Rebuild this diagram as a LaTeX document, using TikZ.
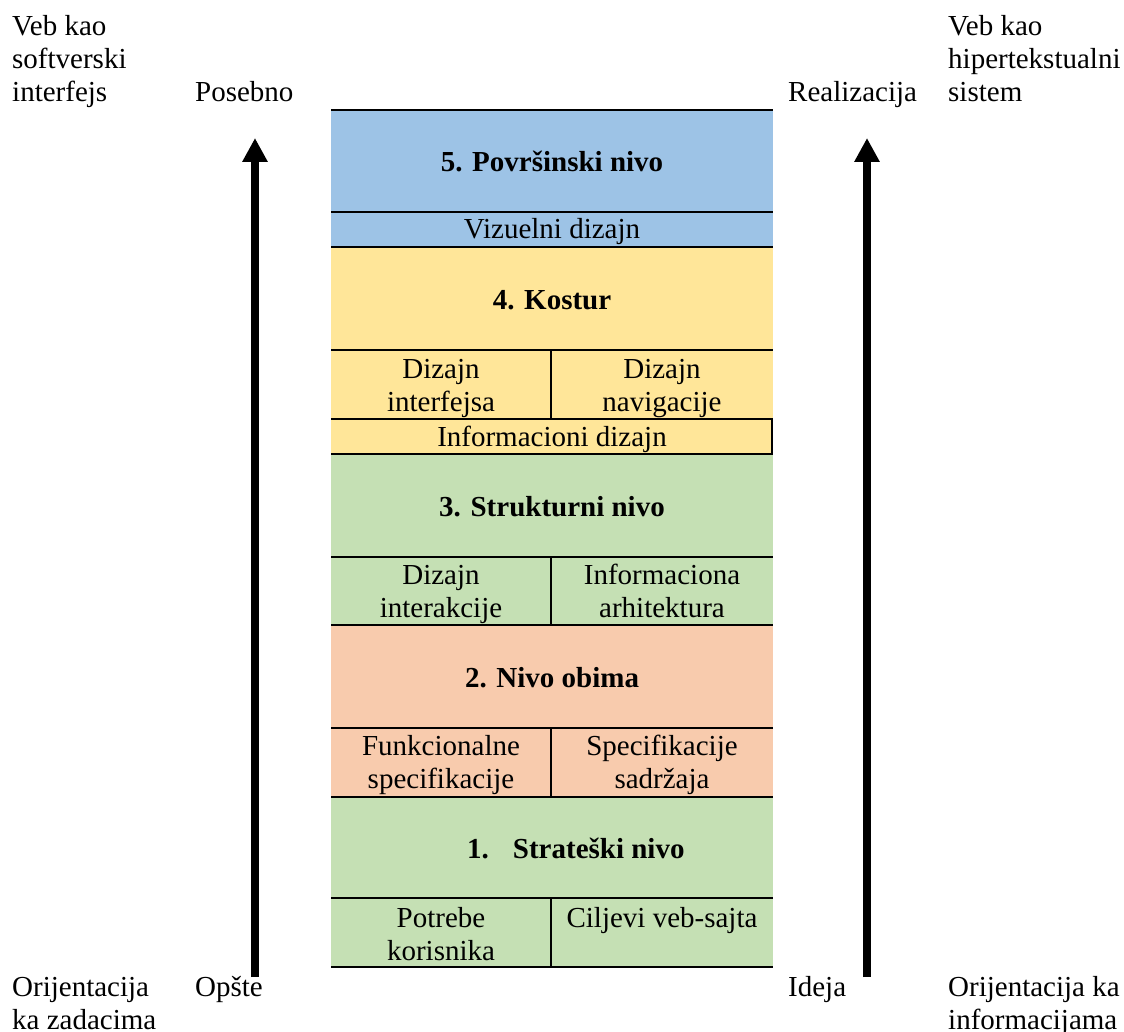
\documentclass[tikz,border=0pt]{standalone}
\usepackage{fontspec}
\setmainfont{Liberation Serif}
\usetikzlibrary{arrows.meta}
\definecolor{plava}{HTML}{9DC3E6}
\definecolor{zuta}{HTML}{FFE699}
\definecolor{zelena}{HTML}{C5E0B4}
\definecolor{losos}{HTML}{F8CBAD}

\begin{document}
\begin{tikzpicture}[x=1pt,y=-1pt,
		tekst/.style={inner sep=0pt,font=\fontsize{29}{33}\selectfont},
		naslov/.style={tekst,font=\fontsize{29}{33}\selectfont\bfseries,anchor=base},
		polje/.style={tekst,align=center,anchor=base},
		oznaka/.style={tekst,align=left,anchor=base west},
		linija/.style={line width=2pt},
		strelica/.style={line width=8pt,-{Triangle[length=24pt,width=24pt]}}]
		\useasboundingbox (0,0) rectangle (1124,1032);
		%slojevi
			\fill[plava] (331,110) rectangle (773,247);
			\fill[zuta] (331,247) rectangle (773,454);
			\fill[zelena] (331,454) rectangle (773,625);
			\fill[losos] (331,625) rectangle (773,797);
			\fill[zelena] (331,797) rectangle (773,967);
		%linije tabele
			\foreach \y in {110,212,247,350,419,454,557,625,728,797,898,967}
				\draw[linija] (331,\y) -- (773,\y);
			\foreach \a/\b in {350/419,557/625,728/797,898/967}
				\draw[linija] (551,\a) -- (551,\b);
			\draw[linija] (772,419) -- (772,454);
		%nivoi
			\node[naslov] (nivo5) at (552,172) {5. Površinski nivo};
			\node[polje] (vizuelni) at (552,239) {Vizuelni dizajn};
			\node[naslov] (nivo4) at (552,309) {4. Kostur};
			\node[polje] (interfejs) at (441,411) {Dizajn\\interfejsa};
			\node[polje] (navigacija) at (662,411) {Dizajn\\navigacije};
			\node[polje] (informacioni) at (552,446) {Informacioni dizajn};
			\node[naslov] (nivo3) at (552,516) {3. Strukturni nivo};
			\node[polje] (interakcija) at (441,617) {Dizajn\\interakcije};
			\node[polje] (arhitektura) at (662,617) {Informaciona\\arhitektura};
			\node[naslov] (nivo2) at (552,687) {2. Nivo obima};
			\node[polje] (funkcionalne) at (441,788) {Funkcionalne\\specifikacije};
			\node[polje] (sadrzaj) at (662,788) {Specifikacije\\sadržaja};
			\node[naslov,anchor=base west] (nivo1) at (467,858) {1.\hspace{24pt}Strateški nivo};
			\node[polje] (korisnici) at (441,960) {Potrebe\\korisnika};
			\node[polje] (ciljevi) at (662,927) {Ciljevi veb-sajta};
		%strelice
			\coordinate (levodole) at (255,977);
			\coordinate (levogore) at (255,138);
			\coordinate (desnodole) at (867,977);
			\coordinate (desnogore) at (867,138);
			\draw[strelica] (levodole) -- (levogore);
			\draw[strelica] (desnodole) -- (desnogore);
		%oznake
			\node[oznaka] (softverski) at (12,102) {Veb kao\\softverski\\interfejs};
			\node[oznaka] (posebno) at (195,102) {Posebno};
			\node[oznaka] (realizacija) at (788,102) {Realizacija};
			\node[oznaka] (hipertekst) at (948,102) {Veb kao\\hipertekstualni\\sistem};
			\node[oznaka] (zadaci) at (12,1029) {Orijentacija\\ka zadacima};
			\node[oznaka] (opste) at (195,996) {Opšte};
			\node[oznaka] (ideja) at (788,996) {Ideja};
			\node[oznaka] (informacije) at (948,1029) {Orijentacija ka\\informacijama};
	\end{tikzpicture}
\end{document}
